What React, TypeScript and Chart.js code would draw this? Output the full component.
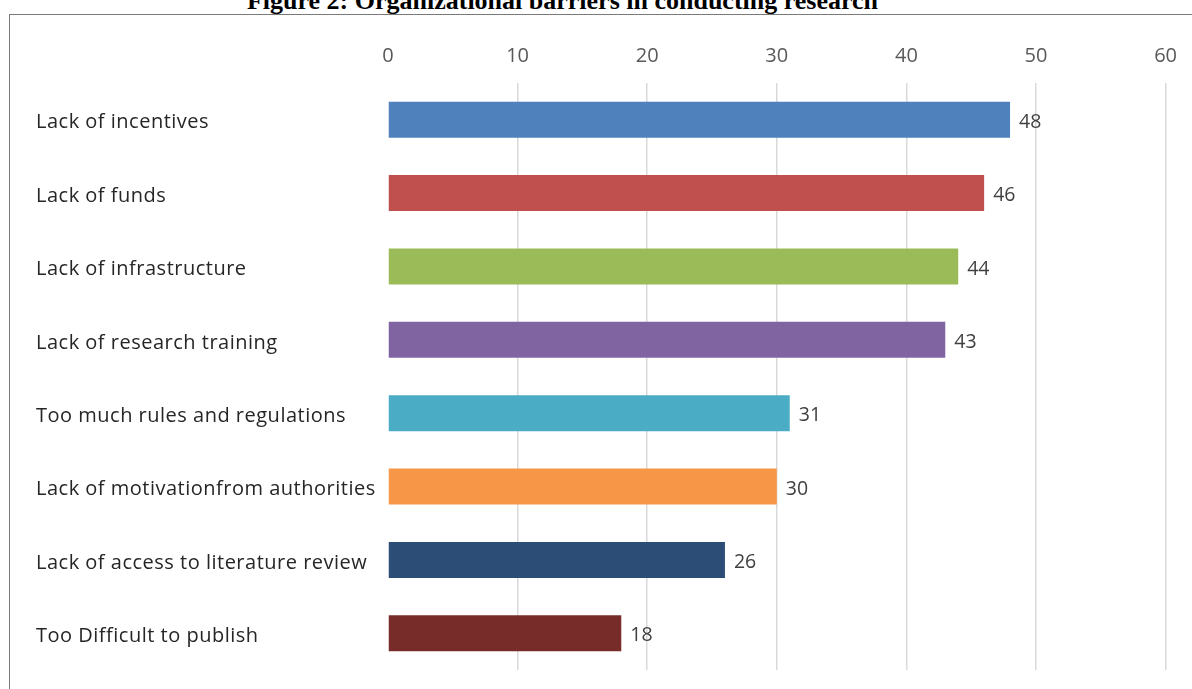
import React, { useEffect, useRef } from "react";
import { Chart, registerables } from "chart.js";

Chart.register(...registerables);

const categories = [
  "Lack of incentives",
  "Lack of funds",
  "Lack of infrastructure",
  "Lack of research training",
  "Too much rules and regulations",
  "Lack of motivationfrom authorities",
  "Lack of access to literature review",
  "Too Difficult to publish",
];
const values = [48, 46, 44, 43, 31, 30, 26, 18];
const barColors = [
  "#4F81BD",
  "#C0504D",
  "#9BBB59",
  "#8064A2",
  "#4BACC6",
  "#F79646",
  "#2C4D75",
  "#772C2A",
];
const xTicks = [0, 10, 20, 30, 40, 50, 60];
const titleText = "Figure 2: Organizational barriers in conducting research";

const FONT = "'Open Sans', 'Noto Sans', sans-serif";

const textLabels = {
  id: "textLabels",
  afterDatasetsDraw(chart: any) {
    const ctx = chart.ctx;
    const meta = chart.getDatasetMeta(0);
    const yScale = chart.scales.y;
    ctx.save();
    ctx.textBaseline = "middle";
    // category labels, left aligned
    ctx.font = `20px ${FONT}`;
    ctx.fillStyle = "#262626";
    ctx.textAlign = "left";
    try {
      (ctx as any).letterSpacing = "0.5px";
    } catch (e) {}
    categories.forEach((label, i) => {
      ctx.fillText(label, yScale.left, yScale.getPixelForTick(i) + 3);
    });
    try {
      (ctx as any).letterSpacing = "0px";
    } catch (e) {}
    // value labels at bar ends
    ctx.font = `19.5px ${FONT}`;
    ctx.fillStyle = "#404040";
    meta.data.forEach((bar: any, i: number) => {
      ctx.fillText(String(values[i]), bar.x + 9, bar.y + 2.5);
    });
    ctx.restore();
  },
};

export default function App() {
  const ref = useRef<HTMLCanvasElement | null>(null);
  useEffect(() => {
    if (!ref.current) return;
    const chart = new Chart(ref.current, {
      type: "bar",
      data: {
        labels: categories,
        datasets: [
          {
            data: values,
            backgroundColor: barColors,
            borderWidth: 0,
            categoryPercentage: 1,
            barPercentage: 0.49,
          },
        ],
      },
      options: {
        indexAxis: "y",
        animation: false,
        responsive: false,
        maintainAspectRatio: false,
        layout: { padding: { left: 36, right: 24, top: 0, bottom: 19 } },
        plugins: { legend: { display: false }, tooltip: { enabled: false } },
        scales: {
          x: {
            position: "top",
            min: 0,
            max: 60,
            afterBuildTicks: (scale: any) => {
              scale.ticks = xTicks.map((v) => ({ value: v }));
            },
            afterFit: (scale: any) => {
              scale.height = 83;
            },
            border: { display: false },
            grid: {
              drawTicks: false,
              color: (c: any) => (c.tick && c.tick.value === 0 ? "rgba(0,0,0,0)" : "#d9d9d9"),
              lineWidth: 1.5,
            },
            ticks: {
              padding: 15,
              color: "#595959",
              font: { family: FONT, size: 20 },
            },
          },
          y: {
            afterFit: (scale: any) => {
              scale.width = 352;
            },
            border: { display: false },
            grid: { display: false },
            ticks: { display: false },
          },
        },
      },
      plugins: [textLabels],
    });
    return () => chart.destroy();
  }, []);

  return (
    <div
      style={{
        position: "fixed",
        left: 0,
        top: 0,
        width: 1192,
        height: 689,
        overflow: "hidden",
        background: "#fff",
      }}
    >
      <div
        style={{
          position: "absolute",
          left: 9,
          top: 14,
          width: 1300,
          height: 800,
          borderLeft: "1.5px solid #7a7a7a",
          borderTop: "1.5px solid #7a7a7a",
        }}
      />
      <div
        style={{
          position: "absolute",
          left: 0,
          width: 1125,
          top: -12,
          textAlign: "center",
          fontFamily: "'Liberation Serif', 'Times New Roman', serif",
          fontWeight: "bold",
          fontSize: 26,
          lineHeight: "26px",
          color: "#000",
          whiteSpace: "nowrap",
        }}
      >
        {titleText}
      </div>
      <canvas
        ref={ref}
        width={1192}
        height={689}
        style={{ position: "absolute", left: 0, top: 0, width: 1192, height: 689 }}
      />
    </div>
  );
}
